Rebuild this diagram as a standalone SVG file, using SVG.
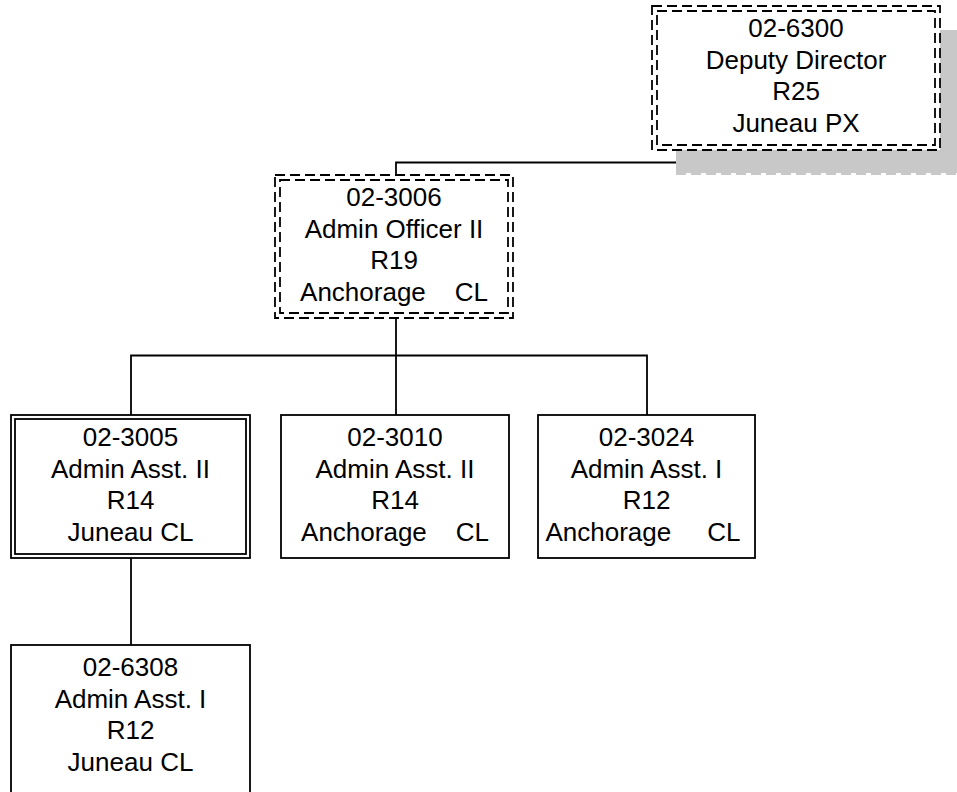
<svg xmlns="http://www.w3.org/2000/svg" width="957" height="792" viewBox="0 0 957 792">
<style>
.box{fill:#fff;stroke:#000;stroke-width:1.8}
.in{fill:none;stroke:#000;stroke-width:1.8}
.dash{stroke-dasharray:10,5}
.con{fill:none;stroke:#000;stroke-width:1.8}
text{font-family:"Liberation Sans",Arial,sans-serif;font-size:26px;fill:#000;text-anchor:middle;white-space:pre}
</style>
<rect width="957" height="792" fill="#fff"/>
<g id="connectors">
<path class="con" d="M797,150 V162.5 H396 V175"/>
<path class="con" d="M396,318 V415 M131,415 V355.5 H647 V415"/>
<path class="con" d="M131,558 V645"/>
</g>
<g id="n6300">
<rect x="676" y="30" width="290" height="143" fill="#c8c8c8"/>
<line x1="676" y1="174" x2="957" y2="174" stroke="#c8c8c8" stroke-width="2" stroke-dasharray="10,5"/>
<rect x="652" y="6" width="288" height="144" fill="#fff"/>
<rect class="in dash" x="652" y="6" width="288" height="144"/>
<rect class="in dash" x="657" y="11" width="278" height="134"/>
<text x="796" y="37">02-6300</text>
<text x="796" y="69">Deputy Director</text>
<text x="796" y="100">R25</text>
<text x="796" y="132">Juneau PX</text>
</g>
<g id="n3006">
<rect x="275" y="175" width="238" height="143" fill="#fff"/>
<rect class="in dash" x="275" y="175" width="238" height="143"/>
<rect class="in dash" x="280" y="180" width="228" height="133"/>
<text x="394" y="206">02-3006</text>
<text x="394" y="238">Admin Officer II</text>
<text x="394" y="269">R19</text>
<text x="394" y="301" xml:space="preserve">Anchorage    CL</text>
</g>
<g id="n3005">
<rect class="box" x="11" y="415" width="239" height="143"/>
<rect class="in" x="15" y="419" width="231" height="135"/>
<text x="130.5" y="446">02-3005</text>
<text x="130.5" y="478">Admin Asst. II</text>
<text x="130.5" y="509">R14</text>
<text x="130.5" y="541">Juneau CL</text>
</g>
<g id="n3010">
<rect class="box" x="281" y="415" width="228" height="143"/>
<text x="395" y="446">02-3010</text>
<text x="395" y="478">Admin Asst. II</text>
<text x="395" y="509">R14</text>
<text x="395" y="541" xml:space="preserve">Anchorage    CL</text>
</g>
<g id="n3024">
<rect class="box" x="538" y="415" width="217" height="143"/>
<text x="646.5" y="446">02-3024</text>
<text x="646.5" y="478">Admin Asst. I</text>
<text x="646.5" y="509">R12</text>
<text x="643" y="541" xml:space="preserve">Anchorage     CL</text>
</g>
<g id="n6308">
<rect class="box" x="11" y="645" width="239" height="155"/>
<text x="130.5" y="676">02-6308</text>
<text x="130.5" y="708">Admin Asst. I</text>
<text x="130.5" y="739">R12</text>
<text x="130.5" y="771">Juneau CL</text>
</g>
</svg>
